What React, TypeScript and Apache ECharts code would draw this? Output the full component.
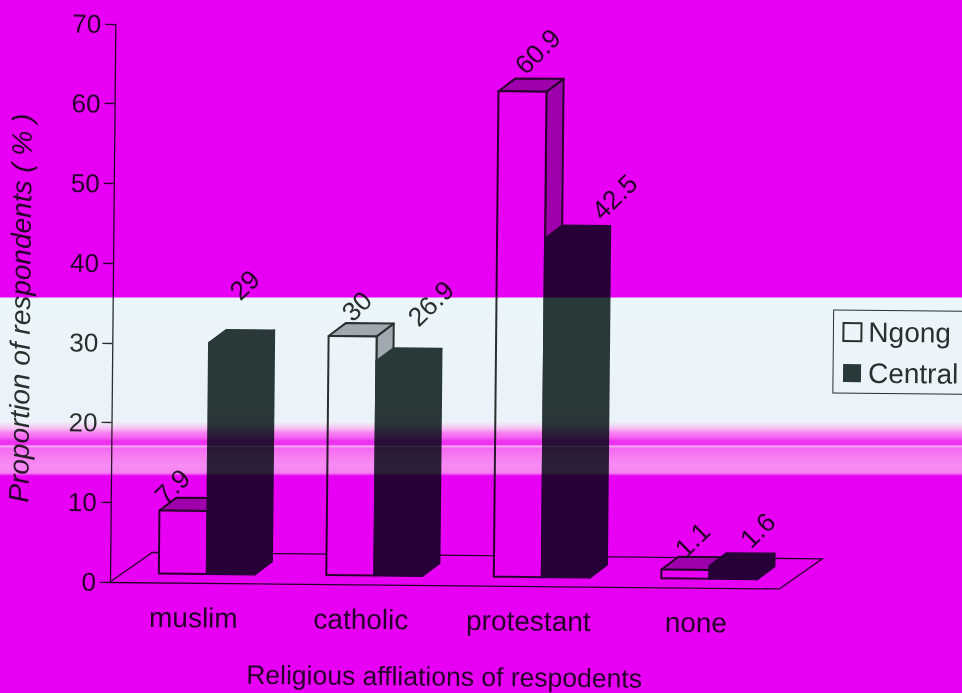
import React, { useEffect, useRef } from "react";
import * as echarts from "echarts";

const categories = ["muslim", "catholic", "protestant", "none"];
const ngong = [7.9, 30, 60.9, 1.1];
const central = [29, 26.9, 42.5, 1.6];
const yTicks = { min: 0, max: 70, interval: 10 };

// Hand-placed slanted value labels, relative to the top-front centre of each bar.
const ngongLabelNudge = [[-11, -24], [4, -30], [15, -40], [7, -30]];
const centralLabelNudge = [[11, -58], [30, -58], [45, -42], [24, -36]];

const ink = "#2c322e";
const barInk = "#2c3a3a";
const shade = "#aeb0b4";
const fontFamily = "'Liberation Sans', Arial, sans-serif";

const BAR_W = 48;
const DEPTH_X = 17;
const DEPTH_Y = -13;
const FLOOR_X = 42;
const FLOOR_Y = -30;
const BAR_SHIFT_X = 13;
const BAR_SHIFT_Y = -9;

const paper = `linear-gradient(to bottom,
  #e800f4 0, #e800f4 297px, #ebf6fa 298px, #ebf2f9 422px, #f6c4f4 428px,
  #f880f2 433px, #f260f0 438px, #ee30f0 441px, #ee34f0 445px, #fbc0f6 446px,
  #f468f2 448px, #f67cf2 456px, #f78cf3 466px, #f680f3 473px, #e800f4 476px, #e800f4 100%)`;

function bar3d(side: "left" | "right", nudges: number[][], fill: string, top: string, edge: string) {
  return (params: any, api: any) => {
    const idx = api.value(0);
    const value = api.value(1);
    const head = api.coord([idx, value]);
    const foot = api.coord([idx, 0]);
    const mid = head[0] + BAR_SHIFT_X;
    const x0 = side === "left" ? mid - BAR_W : mid;
    const x1 = x0 + BAR_W;
    const yT = head[1] + BAR_SHIFT_Y;
    const yB = foot[1] + BAR_SHIFT_Y;
    const border = { stroke: edge, lineWidth: 2, lineJoin: "round" };
    const nudge = nudges[params.dataIndex];
    return {
      type: "group",
      children: [
        {
          type: "polygon",
          shape: { points: [[x1, yT], [x1 + DEPTH_X, yT + DEPTH_Y], [x1 + DEPTH_X, yB + DEPTH_Y], [x1, yB]] },
          style: { fill: top, ...border },
        },
        {
          type: "polygon",
          shape: { points: [[x0, yT], [x0 + DEPTH_X, yT + DEPTH_Y], [x1 + DEPTH_X, yT + DEPTH_Y], [x1, yT]] },
          style: { fill: top, ...border },
        },
        { type: "rect", shape: { x: x0, y: yT, width: BAR_W, height: yB - yT }, style: { fill, ...border } },
        {
          type: "text",
          x: (x0 + x1) / 2 + nudge[0],
          y: yT + nudge[1],
          rotation: Math.PI / 4,
          style: {
            text: String(value),
            fill: ink,
            font: `26.5px ${fontFamily}`,
            align: "center",
            verticalAlign: "middle",
          },
        },
      ],
    };
  };
}

// The floor of the 3D plot: only its back and side edges; the front edge is the x axis.
function floorEdges(params: any) {
  const { x, y, width, height } = params.coordSys;
  const bottom = y + height;
  return {
    type: "polyline",
    shape: {
      points: [
        [x, bottom],
        [x + FLOOR_X, bottom + FLOOR_Y],
        [x + width + FLOOR_X, bottom + FLOOR_Y],
        [x + width, bottom],
      ],
    },
    style: { fill: "none", stroke: ink, lineWidth: 1.3 },
  };
}

export default function App() {
  const ref = useRef<HTMLDivElement>(null);

  useEffect(() => {
    document.body.style.margin = "0";
    const chart = echarts.init(ref.current!, undefined, { renderer: "svg" });
    chart.setOption({
      animation: false,
      backgroundColor: "transparent",
      textStyle: { fontFamily },
      grid: { left: 110, top: 24, width: 670, height: 558, containLabel: false, outerBoundsMode: "none" },
      legend: {
        left: 831,
        top: 303,
        orient: "vertical",
        icon: "rect",
        itemWidth: 18,
        itemHeight: 18,
        itemGap: 13,
        padding: [8, 40, 6, 9],
        borderColor: ink,
        borderWidth: 1,
        selectedMode: false,
        textStyle: { fontSize: 28, color: ink, fontFamily, padding: [0, 0, 0, 2] },
        data: ["Ngong", "Central"],
      },
      xAxis: {
        type: "category",
        data: categories,
        name: "Religious affliations of respodents",
        nameLocation: "middle",
        nameGap: 78,
        nameTextStyle: { fontSize: 26.5, color: ink, fontFamily },
        axisLine: { lineStyle: { color: ink, width: 1.3 } },
        axisTick: { length: 12, lineStyle: { color: ink, width: 1.3 } },
        axisLabel: { fontSize: 28, color: ink, margin: 21 },
      },
      yAxis: {
        type: "value",
        ...yTicks,
        name: "Proportion of respondents ( % )",
        nameLocation: "middle",
        nameRotate: 90,
        nameGap: 78,
        nameTextStyle: { fontSize: 28, fontStyle: "italic", color: ink, fontFamily, padding: [0, 12, 0, 0] },
        splitLine: { show: false },
        axisLine: { show: true, lineStyle: { color: ink, width: 1.3 } },
        axisTick: { show: true, length: 10, lineStyle: { color: ink, width: 1.3 } },
        axisLabel: { fontSize: 26, color: ink, margin: 14 },
      },
      series: [
        {
          type: "custom",
          silent: true,
          legendHoverLink: false,
          renderItem: floorEdges,
          data: [[0, 0]],
          z: 1,
        },
        {
          type: "custom",
          name: "Ngong",
          renderItem: bar3d("left", ngongLabelNudge, "#ffffff", shade, ink),
          itemStyle: { color: "#ffffff", borderColor: ink, borderWidth: 2 },
          encode: { x: 0, y: 1 },
          data: ngong.map((v, i) => [i, v]),
          z: 2,
        },
        {
          type: "custom",
          name: "Central",
          renderItem: bar3d("right", centralLabelNudge, barInk, barInk, barInk),
          itemStyle: { color: barInk },
          encode: { x: 0, y: 1 },
          data: central.map((v, i) => [i, v]),
          z: 3,
        },
      ],
    });
    return () => chart.dispose();
  }, []);

  return (
    <div
      style={{
        position: "fixed",
        left: 0,
        top: 0,
        width: 962,
        height: 693,
        overflow: "hidden",
        background: paper,
        isolation: "isolate",
      }}
    >
      <div
        ref={ref}
        style={{
          position: "absolute",
          left: 0,
          top: 0,
          width: 1000,
          height: 720,
          mixBlendMode: "multiply",
          transformOrigin: "110px 582px",
          transform: "rotate(0.55deg)",
        }}
      />
    </div>
  );
}
